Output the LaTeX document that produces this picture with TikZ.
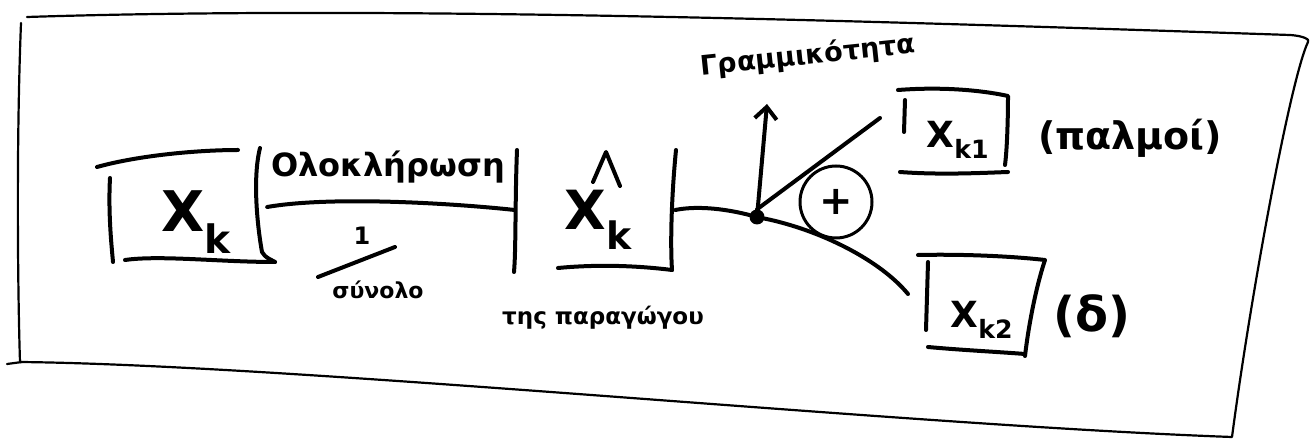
\documentclass[tikz,border=0pt]{standalone}
\usepackage{fontspec}
\setmainfont{DejaVu Sans}
\usetikzlibrary{arrows.meta}
\tikzset{
  ink/.style={line width=4pt, line cap=round, line join=round},
  frame/.style={line width=2.2pt, line cap=round, line join=round},
  slot/.style={draw=none, inner sep=0pt},
  fs/.style={inner sep=0pt, font=\fontsize{#1}{#1}\selectfont\bfseries},
}
\begin{document}
\begin{tikzpicture}[x=1pt,y=-1pt]
\useasboundingbox (0,0) rectangle (1315,443);
% outer frame
\draw[frame] (27,17) .. controls (400,5) and (900,22) .. (1290,35)
  .. controls (1305,36) and (1310,40) .. (1308,42)
  .. controls (1290,80) and (1250,300) .. (1232,437)
  .. controls (900,425) and (300,365) .. (20,362);
\draw[frame] (21,23) .. controls (16,150) and (18,300) .. (20,362);
\draw[frame] (7,364) -- (22,362);
% boxes (slots)
\node[slot, minimum width=160pt, minimum height=110pt] (xk) at (187,207) {};
\node[slot, minimum width=160pt, minimum height=120pt] (xh) at (595,210) {};
\node[slot, minimum width=108pt, minimum height=80pt] (k1) at (955,132) {};
\node[slot, minimum width=117pt, minimum height=97pt] (k2) at (986,305) {};
% Xk box
\draw[ink] (110,178) .. controls (108,215) and (112,250) .. (113,262);
\draw[ink] (97,167) .. controls (140,155) and (200,150) .. (238,150);
\draw[ink] (260,148) .. controls (252,180) and (258,230) .. (262,252) .. controls (265,258) and (272,260) .. (275,262);
\draw[ink] (125,260) .. controls (160,255) and (220,262) .. (275,262);
\node[fs=56] at (196,222) {X\textsubscript{k}};
% Xhat box
\draw[ink] (517,150) .. controls (515,200) and (516,250) .. (514,272);
\draw[ink] (558,268) .. controls (600,264) and (640,266) .. (672,270);
\draw[ink] (676,150) .. controls (672,190) and (670,240) .. (672,270);
\node[fs=54] (xht) at (598,220) {X\textsubscript{k}};
\draw[ink] (593,182) -- (606,152) -- (620,186);
% labels of the first arrow
\node[fs=32] (ol) at (388,167) {Ολοκλήρωση};
\node[fs=24] (one) at (362,236) {1};
\coordinate (fa) at (318,277);
\coordinate (fb) at (395,247);
\draw[ink] (fa) -- (fb);
\node[fs=22] (syn) at (378,290) {σύνολο};
\draw[ink] (xk.east) .. controls (330,196) and (450,203) .. (xh.west);
\node[fs=23] at (603,318) {της παραγώγου};
% junction
\node[circle, fill, inner sep=0pt, minimum size=15pt] (j) at (757,217) {};
\draw[ink] (xh.east) .. controls (700,205) and (730,210) .. (j);
\coordinate (up) at (767,104);
\draw[ink, -{Straight Barb[length=12pt,width=22pt]}] (j) -- (up);
\node[fs=27, rotate=6] at (808,56) {Γραμμικότητα};
\coordinate (k1e) at (880,118);
\draw[ink] (j.north) -- (k1e);
\coordinate (k2e) at (908,294);
\draw[ink] (j) .. controls (820,230) and (880,260) .. (k2e);
\node[circle, draw, line width=3pt, minimum width=72pt, minimum height=56pt, inner sep=0pt,
  font=\fontsize{40}{40}\selectfont\bfseries] (plus) at (836,202) {+};
% Xk1 box
\draw[ink] (905,100) -- (904,132);
\draw[ink] (898,90) .. controls (950,86) and (990,92) .. (1008,96) .. controls (1008,120) and (1007,150) .. (1005,165);
\draw[ink] (900,172) .. controls (940,175) and (980,173) .. (1008,172);
\node[fs=36] at (958,140) {X\textsubscript{k1}};
\node[fs=38] at (1130,138) {(παλμοί)};
% Xk2 box
\draw[ink] (918,255) .. controls (960,254) and (1010,256) .. (1045,260)
  .. controls (1035,290) and (1028,330) .. (1025,356);
\draw[ink] (928,262) -- (926,330);
\draw[ink] (928,347) .. controls (960,350) and (1000,352) .. (1025,354);
\node[fs=36] at (982,320) {X\textsubscript{k2}};
\node[fs=48] at (1092,316) {(δ)};
\end{tikzpicture}
\end{document}
